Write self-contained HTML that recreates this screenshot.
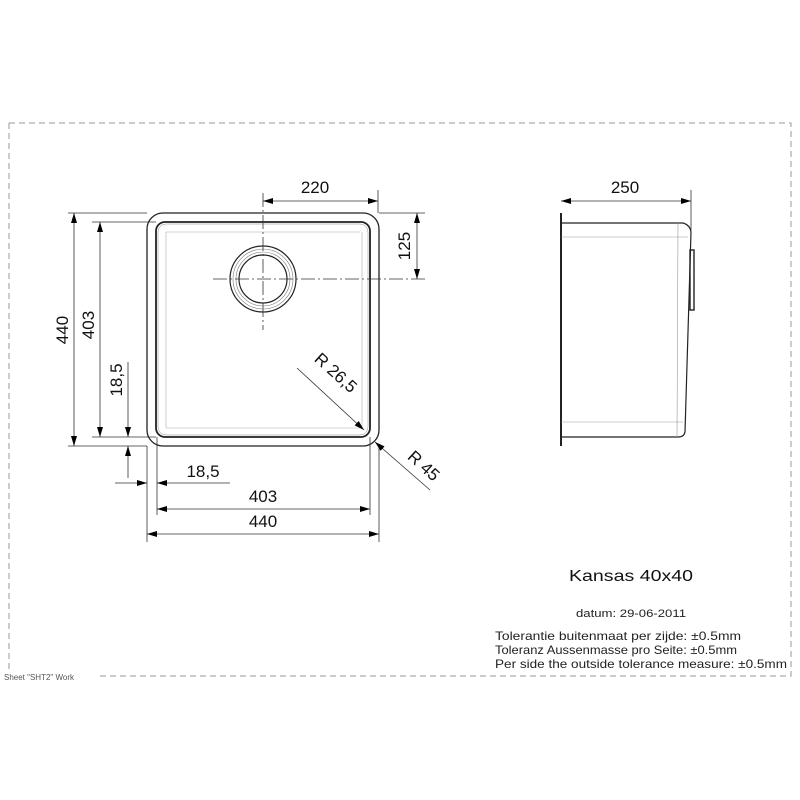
<!DOCTYPE html>
<html><head><meta charset="utf-8"><style>html,body{margin:0;padding:0;background:#fff}svg{display:block}</style></head><body>
<svg width="800" height="800" viewBox="0 0 800 800" xmlns="http://www.w3.org/2000/svg" font-family="Liberation Sans, sans-serif">
<defs>
<marker id="a" viewBox="0 0 10 6" refX="10" refY="3" markerWidth="11" markerHeight="6" orient="auto-start-reverse" markerUnits="userSpaceOnUse"><path d="M0,0 L10,3 L0,6 z" fill="#000"/></marker>
</defs>
<path d="M9,123 H791 V676 H100" fill="none" stroke="#999" stroke-width="1" stroke-dasharray="6,4"/>
<path d="M9,123 V670" fill="none" stroke="#999" stroke-width="1" stroke-dasharray="6,4"/>
<text x="4" y="680" font-size="8" fill="#555">Sheet "SHT2" Work</text>
<g fill="none" stroke="#222">
<rect x="147" y="213" width="232" height="233" rx="16" stroke-width="1.3"/>
<rect x="156" y="222" width="214" height="215" rx="9" stroke-width="1.8"/>
<rect x="158" y="224" width="210" height="211" rx="8" stroke-width="0.5" stroke="#888"/>
<line x1="166" y1="232" x2="360" y2="232" stroke="#aaa" stroke-width="0.6"/>
<line x1="166" y1="428" x2="360" y2="428" stroke="#aaa" stroke-width="0.6"/>
<line x1="166" y1="232" x2="166" y2="428" stroke="#aaa" stroke-width="0.6"/>
<line x1="362" y1="232" x2="362" y2="428" stroke="#aaa" stroke-width="0.6"/>
<circle cx="263" cy="279" r="33" stroke-width="1.2"/>
<circle cx="263" cy="279" r="30" stroke-width="0.6" stroke="#777"/>
<circle cx="263" cy="279" r="27" stroke-width="0.6" stroke="#777"/>
<circle cx="263" cy="279" r="24" stroke-width="1.2"/>
</g>
<g stroke="#333" stroke-width="0.8" fill="none">
<line x1="263" y1="193" x2="263" y2="330" stroke-dasharray="14,3,2,3"/>
<line x1="213" y1="279" x2="425" y2="279" stroke-dasharray="14,3,2,3"/>
<line x1="378" y1="190" x2="378" y2="213"/>
<line x1="263" y1="201" x2="378" y2="201" marker-start="url(#a)" marker-end="url(#a)"/>
<line x1="379" y1="213" x2="425" y2="213"/>
<line x1="417" y1="213" x2="417" y2="279" marker-start="url(#a)" marker-end="url(#a)"/>
<line x1="68" y1="213" x2="147" y2="213"/>
<line x1="68" y1="446" x2="147" y2="446"/>
<line x1="92" y1="222" x2="156" y2="222"/>
<line x1="92" y1="437" x2="156" y2="437"/>
<line x1="74" y1="213" x2="74" y2="446" marker-start="url(#a)" marker-end="url(#a)"/>
<line x1="100" y1="222" x2="100" y2="437" marker-start="url(#a)" marker-end="url(#a)"/>
<line x1="128" y1="362" x2="128" y2="437" marker-end="url(#a)"/>
<line x1="128" y1="478" x2="128" y2="446" marker-end="url(#a)"/>
<line x1="147" y1="446" x2="147" y2="542"/>
<line x1="157" y1="437" x2="157" y2="515"/>
<line x1="370" y1="437" x2="370" y2="515"/>
<line x1="379" y1="446" x2="379" y2="542"/>
<line x1="115" y1="483" x2="147" y2="483" marker-end="url(#a)"/>
<line x1="230" y1="483" x2="157" y2="483" marker-end="url(#a)"/>
<line x1="157" y1="509" x2="370" y2="509" marker-start="url(#a)" marker-end="url(#a)"/>
<line x1="147" y1="534" x2="379" y2="534" marker-start="url(#a)" marker-end="url(#a)"/>
<line x1="297" y1="368" x2="364" y2="430" marker-end="url(#a)"/>
<line x1="430" y1="490" x2="375" y2="442" marker-end="url(#a)"/>
</g>
<g font-size="17" fill="#111">
<text x="315" y="193" text-anchor="middle">220</text>
<text x="410" y="246" text-anchor="middle" transform="rotate(-90 410 246)">125</text>
<text x="68" y="330" text-anchor="middle" transform="rotate(-90 68 330)">440</text>
<text x="94" y="325" text-anchor="middle" transform="rotate(-90 94 325)">403</text>
<text x="122" y="380" text-anchor="middle" transform="rotate(-90 122 380)">18,5</text>
<text x="203" y="477" text-anchor="middle">18,5</text>
<text x="263" y="502" text-anchor="middle">403</text>
<text x="263" y="527" text-anchor="middle">440</text>
<text x="332" y="377" text-anchor="middle" transform="rotate(42 332 377)">R 26,5</text>
<text x="420" y="470" text-anchor="middle" transform="rotate(42 420 470)">R 45</text>
<text x="625" y="193" text-anchor="middle">250</text>
</g>
<g fill="none" stroke="#222">
<line x1="561" y1="213" x2="561" y2="446" stroke-width="2"/>
<path d="M561,223 H683 Q690,225 691,232 L685,432 Q684,437 678,437 H561" stroke-width="1.2"/>
<line x1="561" y1="237" x2="688" y2="237" stroke="#999" stroke-width="0.6"/>
<line x1="561" y1="422" x2="683" y2="422" stroke="#999" stroke-width="0.6"/>
<line x1="678" y1="223" x2="677" y2="437" stroke="#999" stroke-width="0.6"/>
<rect x="690" y="250" width="4" height="60" stroke-width="1.4"/>
</g>
<g stroke="#333" stroke-width="0.8">
<line x1="691" y1="190" x2="691" y2="230"/>
<line x1="561" y1="201" x2="691" y2="201" marker-start="url(#a)" marker-end="url(#a)"/>
</g>
<text x="569" y="581" font-size="16" textLength="124" lengthAdjust="spacingAndGlyphs" fill="#111">Kansas 40x40</text>
<text x="576" y="617" font-size="11" textLength="110" lengthAdjust="spacingAndGlyphs" fill="#222">datum: 29-06-2011</text>
<g font-size="12" fill="#222">
<text x="495" y="640" textLength="246" lengthAdjust="spacingAndGlyphs">Tolerantie buitenmaat per zijde: ±0.5mm</text>
<text x="495" y="654" textLength="242" lengthAdjust="spacingAndGlyphs">Toleranz Aussenmasse pro Seite: ±0.5mm</text>
<text x="495" y="668" textLength="292" lengthAdjust="spacingAndGlyphs">Per side the outside tolerance measure: ±0.5mm</text>
</g>
</svg>
</body></html>
